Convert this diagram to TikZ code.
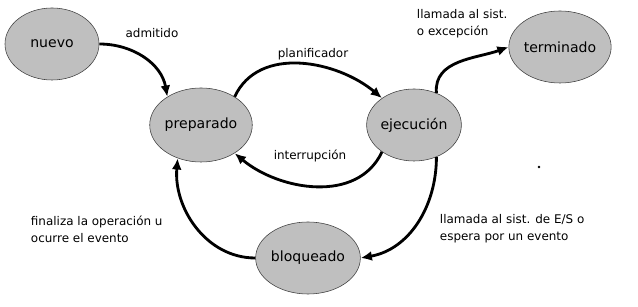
\documentclass[tikz,border=0pt]{standalone}
\usepackage{fontspec}
\setmainfont{DejaVu Sans}
\usetikzlibrary{shapes.geometric,arrows.meta}
\begin{document}
\begin{tikzpicture}[x=0.025cm, y=0.025cm, every node/.style={font=\fontsize{8.5}{12}\selectfont}]
  \tikzstyle{estado}=[ellipse,draw=black!75,fill=black!25,minimum width=2.35cm,minimum height=1.8cm,inner sep=0pt,font=\fontsize{10}{12}\selectfont]
  \tikzstyle{flecha}=[-{Latex[length=8pt,width=7pt]},line width=2pt]
  \useasboundingbox (0,0) rectangle (638,307);
  \node[estado] (nuevo) at (52,263) {nuevo};
  \node[estado,minimum width=2.2cm,minimum height=1.85cm] (preparado) at (201,182) {preparado};
  \node[estado] (ejecucion) at (414,182) {ejecución};
  \node[estado] (terminado) at (560,260) {terminado};
  \node[estado] (bloqueado) at (308,49) {bloqueado};
  \draw[flecha] (nuevo.east) to[out=0,in=100] (preparado.140);
  \draw[flecha] (preparado.40) to[out=65,in=140] (ejecucion.140);
  \draw[flecha] (ejecucion.220) to[out=245,in=320] (preparado.320);
  \draw[flecha] (ejecucion.55) to[out=95,in=200] (terminado.west);
  \draw[flecha] (ejecucion.305) to[out=270,in=10] (bloqueado.east);
  \draw[flecha] (bloqueado.west) to[out=180,in=265] (preparado.235);
  \node (admitido) at (152,274) {admitido};
  \node (planificador) at (313,253) {planificador};
  \node (interrupcion) at (310,151) {interrupción};
  \node[anchor=west,align=left] (llamada) at (412,283) {llamada al sist.\\o excepción};
  \node[anchor=west,align=left] (finaliza) at (26,78) {finaliza la operación u\\ocurre el evento};
  \node[anchor=west,align=left] (espera) at (435,78) {llamada al sist. de E/S o\\espera por un evento};
  \fill (539,140) circle (1.3);
\end{tikzpicture}
\end{document}
